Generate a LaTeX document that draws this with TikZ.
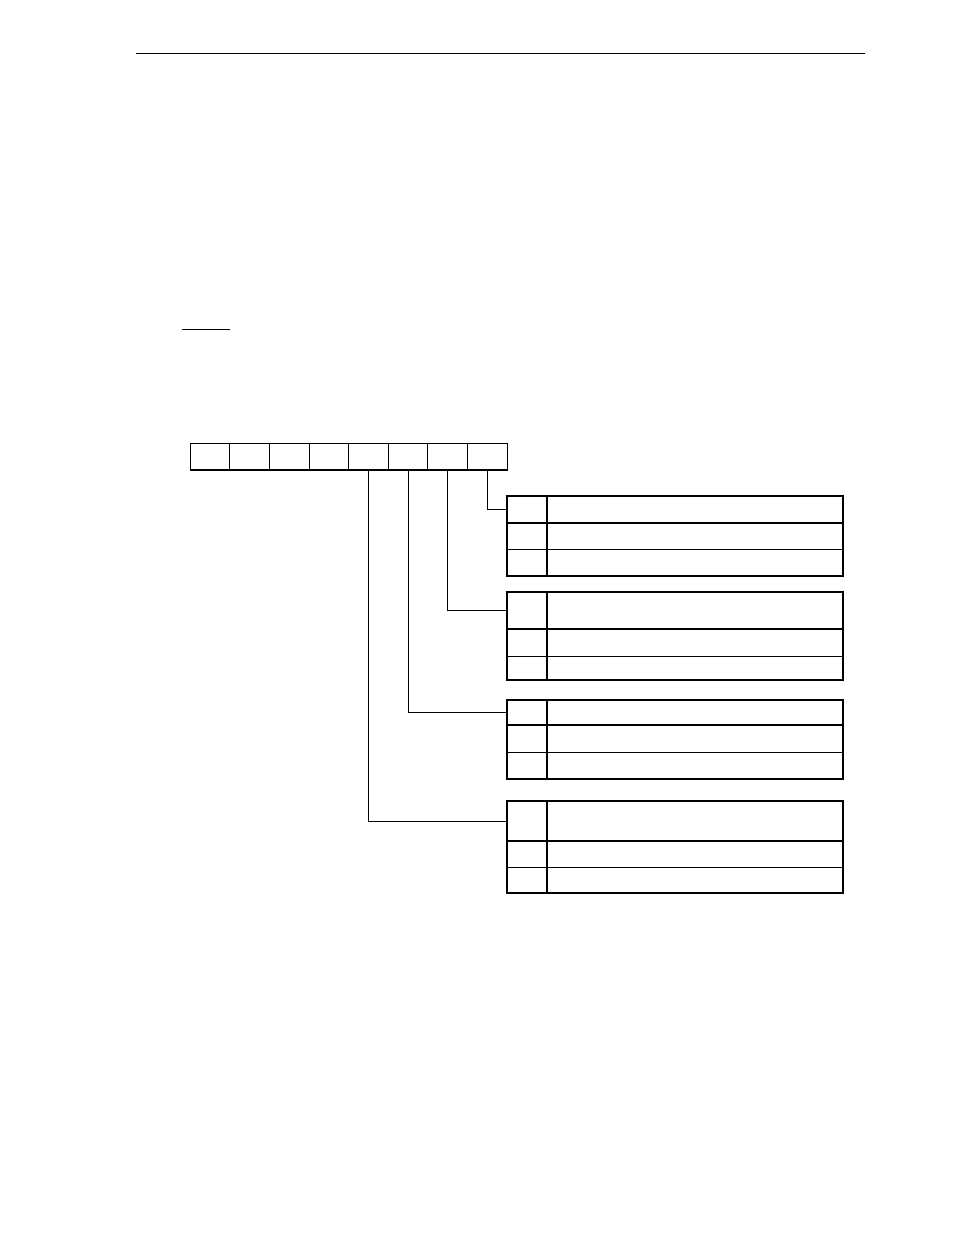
\documentclass[tikz,border=0pt]{standalone}
\usetikzlibrary{positioning}

\tikzset{
  bitcell/.style={draw,line width=1pt,minimum width=39.6pt,minimum height=27pt,inner sep=0pt,outer sep=0pt},
  keycell/.style={draw,line width=1pt,minimum width=40pt,inner sep=0pt,outer sep=0pt,anchor=north west},
  desccell/.style={draw,line width=1pt,minimum width=296pt,inner sep=0pt,outer sep=0pt,anchor=north west},
  frame/.style={line width=2pt},
  lead/.style={line width=1pt}
}

% name, top, heights of the three rows
\newcommand{\fieldtable}[5]{%
  \node[keycell,minimum height=#3pt] (#1k1) at (507,#2) {};
  \node[desccell,minimum height=#3pt] (#1d1) at (#1k1.north east) {};
  \node[keycell,minimum height=#4pt] (#1k2) at (#1k1.south west) {};
  \node[desccell,minimum height=#4pt] (#1d2) at (#1k2.north east) {};
  \node[keycell,minimum height=#5pt] (#1k3) at (#1k2.south west) {};
  \node[desccell,minimum height=#5pt] (#1d3) at (#1k3.north east) {};
  \draw[frame] (#1k1.north west) rectangle (#1d3.south east);
  \draw[frame] (#1k1.south west) -- (#1d1.south east);
  \draw[frame] (#1k1.north east) -- (#1k3.south east);
}

\begin{document}
\begin{tikzpicture}[x=1pt,y=-1pt]
\useasboundingbox[fill=white] (0,0) rectangle (954,1235);

% page rule and short underline
\draw[line width=1pt] (136,53) -- (865,53);
\draw[line width=1pt] (182,329) -- (230,329);

% register bits
\foreach \i in {0,...,7}
  \node[bitcell] (b\i) at ({487.3-39.6*\i},456.5) {};
\draw[frame] (b7.south west) -- (b0.south east);

% field tables
\fieldtable{t0}{496}{27}{26}{27}
\fieldtable{t1}{592}{37}{27}{24}
\fieldtable{t2}{700}{25}{27}{27}
\fieldtable{t3}{801}{40}{26}{26}

% leads from bits to tables
\draw[lead] (b0.south) |- (t0k1.west);
\draw[lead] (b1.south) |- (t1k1.west);
\draw[lead] (b2.south) |- (t2k1.west);
\draw[lead] (b3.south) |- (t3k1.west);
\end{tikzpicture}
\end{document}
